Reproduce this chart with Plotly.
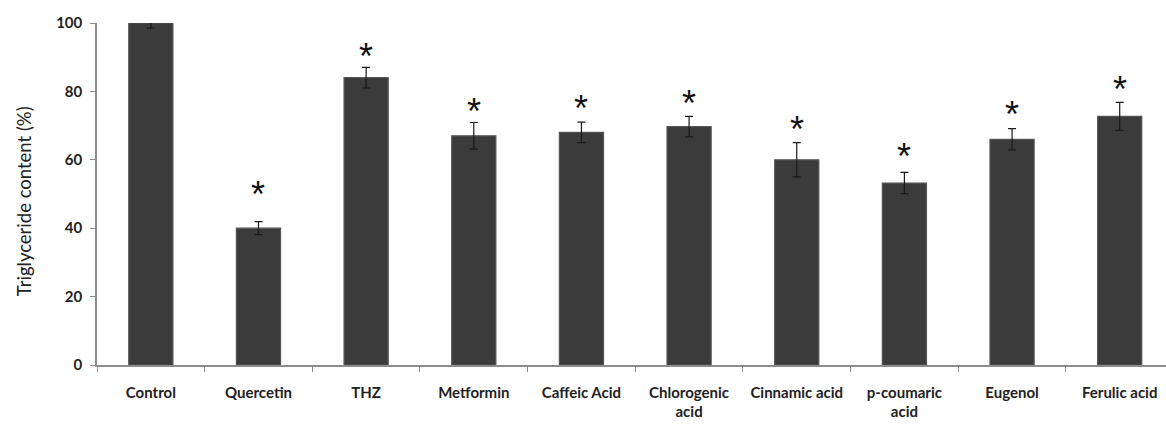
import plotly.graph_objects as go

# Triglyceride content per treatment (% of control), with SD and significance flags
categories = ["Control", "Quercetin", "THZ", "Metformin", "Caffeic Acid",
              "Chlorogenic<br>acid", "Cinnamic acid", "p-coumaric<br>acid",
              "Eugenol", "Ferulic acid"]
values = [100, 40, 84, 67, 68, 69.7, 60, 53.2, 66, 72.7]
errors = [1.5, 1.9, 3.0, 3.9, 3.0, 3.0, 5.0, 3.1, 3.1, 4.1]
significant = [False, True, True, True, True, True, True, True, True, True]
y_ticks = [0, 20, 40, 60, 80, 100]

# vertical gap (px) between each error-bar cap and its asterisk centre
star_gap_px = [0, 33, 17, 17, 20, 19, 19, 22, 20, 19]

LABEL_FONT = "Lato, 'Open Sans', sans-serif"

fig = go.Figure()
fig.add_trace(go.Bar(
    x=categories,
    y=values,
    width=0.41,
    marker=dict(color="#3b3b3b", line=dict(color="#555555", width=1.2)),
    error_y=dict(type="data", array=errors, visible=True,
                 color="#1a1a1a", thickness=1.2, width=4),
    showlegend=False,
))

# significance asterisks above the error bars
for cat, v, e, sig, gap in zip(categories, values, errors, significant, star_gap_px):
    if sig:
        fig.add_annotation(
            x=cat, y=v + e, xref="x", yref="y",
            text="*", showarrow=False,
            yanchor="bottom", yshift=gap - 28.5,
            font=dict(family="Liberation Sans, Arial, sans-serif",
                      size=36, color="#111111"),
        )

fig.add_annotation(
    xref="paper", yref="paper", x=-0.068, y=0.48,
    xanchor="center", yanchor="middle",
    text="Triglyceride content (%)", textangle=-90, showarrow=False,
    font=dict(family=LABEL_FONT, size=18.5, color="#222222"),
)

fig.update_layout(
    width=1166, height=424,
    margin=dict(l=97, r=0, t=23, b=59),
    paper_bgcolor="white", plot_bgcolor="white",
    xaxis=dict(
        type="category",
        range=[-0.5, 9.43],
        showline=True, linecolor="#8c8c8c", linewidth=1.5,
        ticks="outside", tickson="boundaries", ticklen=5,
        tickcolor="#8c8c8c", tickwidth=1,
        ticklabelstandoff=13,
        tickfont=dict(family=LABEL_FONT, size=15, color="#222222",
                      weight="bold"),
        showgrid=False,
    ),
    yaxis=dict(
        range=[0, 100],
        tickvals=y_ticks,
        showline=True, linecolor="#8c8c8c", linewidth=1.5,
        ticks="outside", ticklen=5, tickcolor="#8c8c8c", tickwidth=1,
        ticklabelstandoff=5,
        tickfont=dict(family=LABEL_FONT, size=15, color="#222222",
                      weight="bold"),
        showgrid=False, zeroline=False,
    ),
)

fig.write_html("out.html")
